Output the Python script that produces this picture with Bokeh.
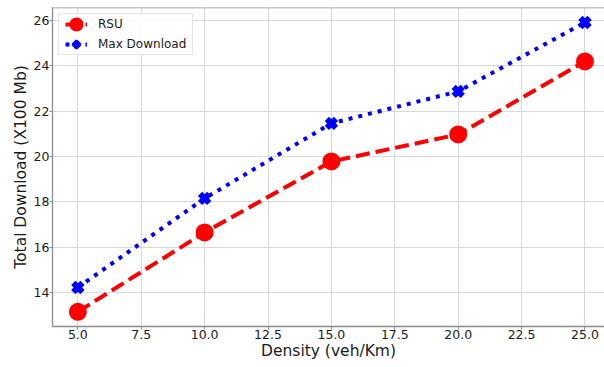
from bokeh.plotting import figure
from bokeh.models import Range1d, Legend, LegendItem, Span, FixedTicker, PrintfTickFormatter
from bokeh.embed import file_html
from bokeh.resources import INLINE

# Total download versus vehicle density
density = [5, 10, 15, 20, 25]
rsu = [13.15, 16.65, 19.78, 20.97, 24.19]
max_download = [14.22, 18.15, 21.46, 22.87, 25.91]

x_ticks = [5.0, 7.5, 10.0, 12.5, 15.0, 17.5, 20.0, 22.5, 25.0]
y_ticks = [14, 16, 18, 20, 22, 24, 26]

FONT = "DejaVu Sans"
AXIS_GREY = "#8c8c8c"
TEXT = "#1a1a1a"

p = figure(
    width=604, height=367,
    output_backend="svg", toolbar_location=None,
    x_range=Range1d(4.0, 25.77), y_range=Range1d(12.5, 26.57),
    min_border_left=52, min_border_right=0,
    min_border_top=7, min_border_bottom=41,
)
p.outline_line_color = None
p.background_fill_color = "white"
p.border_fill_color = "white"

# grid
p.xgrid.ticker = FixedTicker(ticks=x_ticks)
p.ygrid.ticker = FixedTicker(ticks=y_ticks)
for g in (p.xgrid, p.ygrid):
    g.grid_line_color = "#d9d9d9"
    g.grid_line_width = 1

# axes
p.xaxis.ticker = FixedTicker(ticks=x_ticks)
p.yaxis.ticker = FixedTicker(ticks=y_ticks)
p.xaxis.formatter = PrintfTickFormatter(format="%.1f")
p.yaxis.formatter = PrintfTickFormatter(format="%d")
p.xaxis.axis_label = "Density (veh/Km)"
p.yaxis.axis_label = "Total Download (X100 Mb)"
for ax in (p.xaxis, p.yaxis):
    ax.axis_line_color = AXIS_GREY
    ax.axis_line_width = 1.3
    ax.major_tick_line_color = AXIS_GREY
    ax.major_tick_in = 0
    ax.major_tick_out = 3
    ax.minor_tick_line_color = None
    ax.major_label_text_font = FONT
    ax.major_label_text_font_size = "12.5px"
    ax.major_label_text_color = TEXT
    ax.axis_label_text_font = FONT
    ax.axis_label_text_font_size = "15.5px"
    ax.axis_label_text_font_style = "normal"
    ax.axis_label_text_color = TEXT
p.xaxis.major_label_standoff = 0
p.xaxis.axis_label_standoff = 0
p.yaxis.major_label_standoff = 0
p.yaxis.axis_label_standoff = 1

# top frame edge
p.add_layout(Span(location=26.57, dimension="width", line_color=AXIS_GREY, line_width=1.3))

# RSU series (thick outline keeps the legend swatch large too)
rsu_line = p.line(density, rsu, line_color="#ff0000", line_width=4, line_dash="14 6")
rsu_pts = p.scatter(density, rsu, marker="circle", size=12,
                    fill_color="#ff0000", line_color="#ff0000", line_width=6)

# Max Download series
max_line = p.line(density, max_download, line_color="#0000ff", line_width=4, line_dash="4 6")
max_pts = p.scatter(density, max_download, marker="x", size=13,
                    line_color="#0000ff", line_width=6)

legend = Legend(
    items=[
        LegendItem(label="RSU", renderers=[rsu_line, rsu_pts]),
        LegendItem(label="Max Download", renderers=[max_line, max_pts]),
    ],
    location="top_left",
    margin=6, padding=dict(left=6, right=6, top=0, bottom=0), spacing=0,
    glyph_width=22, glyph_height=20, label_height=18,
    label_standoff=11,
    label_text_font=FONT, label_text_font_size="12px", label_text_color=TEXT,
    border_line_color="#cccccc", border_line_width=1,
    background_fill_color="white", background_fill_alpha=0.85,
)
p.add_layout(legend)

open("out.html", "w").write(file_html(p, INLINE))
